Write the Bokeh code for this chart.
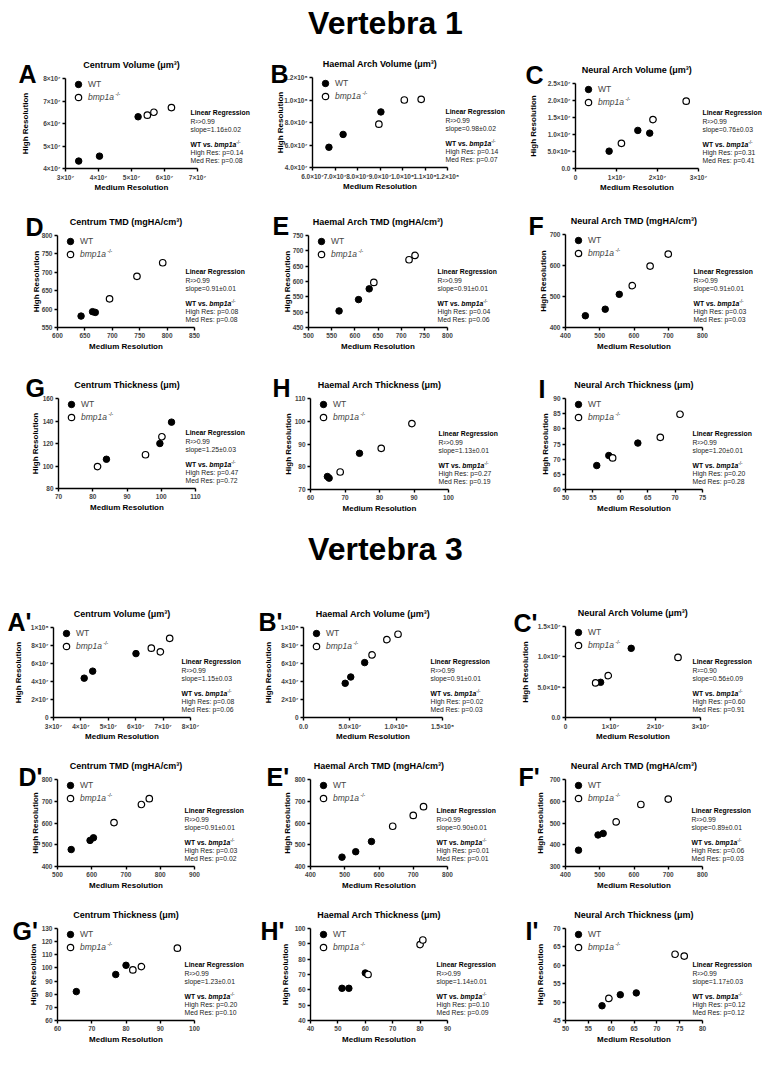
from math import pi
from bokeh.plotting import figure
from bokeh.models import (Range1d, FixedTicker, CustomJSTickFormatter, Label,
                          Legend, LegendItem)
from bokeh.layouts import row, column
from bokeh.embed import file_html
from bokeh.resources import INLINE

FONT = "Liberation Sans"

# ---------------------------------------------------------------- data
HEADINGS = ["Vertebra 1", "Vertebra 3"]
LETTERS = ["A", "B", "C", "D", "E", "F", "G", "H", "I",
           "A'", "B'", "C'", "D'", "E'", "F'", "G'", "H'", "I'"]
TITLES = ["Centrum Volume (μm³)", "Haemal Arch Volume (μm³)", "Neural Arch Volume (μm³)",
          "Centrum TMD (mgHA/cm³)", "Haemal Arch TMD (mgHA/cm³)", "Neural Arch TMD (mgHA/cm³)",
          "Centrum Thickness (μm)", "Haemal Arch Thickness (μm)", "Neural Arch Thickness (μm)"] * 2
X_LABEL = "Medium Resolution"
Y_LABEL = "High Resolution"
GROUPS = ["WT", "bmp1a"]

# Vertebra 1
A_wt_med = [3.40e7, 4.03e7, 5.20e7];   A_wt_high = [4.33e7, 4.55e7, 6.30e7]
A_mut_med = [5.48e7, 5.68e7, 6.21e7];  A_mut_high = [6.37e7, 6.50e7, 6.71e7]
B_wt_med = [6.73e7, 7.36e7, 9.04e7];   B_wt_high = [5.80e7, 6.94e7, 8.94e7]
B_mut_med = [8.95e7, 10.08e7, 10.83e7]; B_mut_high = [7.85e7, 10.0e7, 10.06e7]
C_wt_med = [0.82e7, 1.52e7, 1.81e7];   C_wt_high = [0.51e7, 1.12e7, 1.04e7]
C_mut_med = [1.12e7, 1.89e7, 2.70e7];  C_mut_high = [0.74e7, 1.44e7, 1.98e7]
D_wt_med = [643, 664, 669];   D_wt_high = [581, 593, 591]
D_mut_med = [695, 745, 792];  D_mut_high = [628, 689, 726]
E_wt_med = [566, 608, 631];   E_wt_high = [504, 541, 576]
E_mut_med = [641, 717, 730];  E_mut_high = [597, 671, 685]
F_wt_med = [458, 516, 557];   F_wt_high = [438, 459, 507]
F_mut_med = [595, 647, 700];  F_mut_high = [535, 598, 637]
G_wt_med = [84.0, 99.6, 103.0];  G_wt_high = [106, 120, 139]
G_mut_med = [81.4, 95.4, 100.2]; G_mut_high = [99.5, 110, 126]
H_wt_med = [64.9, 65.4, 74.2];   H_wt_high = [75.7, 75.0, 85.9]
H_mut_med = [68.6, 80.5, 89.4];  H_mut_high = [77.7, 88.1, 99.0]
I_wt_med = [55.7, 57.9, 63.2];   I_wt_high = [67.9, 71.2, 75.3]
I_mut_med = [58.6, 67.3, 70.9];  I_mut_high = [70.4, 77.2, 84.8]
# Vertebra 3
A3_wt_med = [4.12e7, 4.43e7, 6.01e7];  A3_wt_high = [4.37e7, 5.15e7, 7.10e7]
A3_mut_med = [6.57e7, 6.90e7, 7.24e7]; A3_mut_high = [7.70e7, 7.30e7, 8.80e7]
B3_wt_med = [4.5e7, 5.1e7, 6.6e7];     B3_wt_high = [3.8e7, 4.5e7, 6.1e7]
B3_mut_med = [7.4e7, 9.0e7, 10.2e7];   B3_mut_high = [6.95e7, 8.65e7, 9.25e7]
C3_wt_med = [0.78e7, 1.46e7];          C3_wt_high = [0.58e7, 1.14e7]
C3_mut_med = [0.67e7, 0.95e7, 2.50e7]; C3_mut_high = [0.57e7, 0.69e7, 0.99e7]
D3_wt_med = [540, 595, 605];  D3_wt_high = [478, 520, 532]
D3_mut_med = [665, 745, 768]; D3_mut_high = [602, 685, 712]
E3_wt_med = [492, 532, 578];  E3_wt_high = [443, 468, 515]
E3_mut_med = [640, 700, 730]; E3_mut_high = [585, 635, 675]
F3_wt_med = [438, 495, 510];  F3_wt_high = [375, 445, 452]
F3_mut_med = [548, 620, 700]; F3_mut_high = [505, 585, 610]
G3_wt_med = [65.5, 77.0, 80.0];  G3_wt_high = [82, 95, 102]
G3_mut_med = [82.0, 84.5, 95.0]; G3_mut_high = [98.5, 101, 115]
H3_wt_med = [51.5, 54.0, 60.0];  H3_wt_high = [61, 61, 71]
H3_mut_med = [61.0, 80.0, 81.0]; H3_mut_high = [70, 89.5, 92.5]
I3_wt_med = [58.0, 62.0, 65.5];  I3_wt_high = [49, 52, 52.5]
I3_mut_med = [59.5, 74.0, 76.0]; I3_mut_high = [51, 63, 62.5]

# statistics text: R², slope, p (high res), p (medium res)
STATS = [
    ("R²>0.99", "slope=1.16±0.02", "0.14", "0.08"),
    ("R²>0.99", "slope=0.98±0.02", "0.14", "0.07"),
    ("R²>0.99", "slope=0.76±0.03", "0.31", "0.41"),
    ("R²>0.99", "slope=0.91±0.01", "0.08", "0.08"),
    ("R²>0.99", "slope=0.91±0.01", "0.04", "0.06"),
    ("R²>0.99", "slope=0.91±0.01", "0.03", "0.03"),
    ("R²>0.99", "slope=1.25±0.03", "0.47", "0.72"),
    ("R²>0.99", "slope=1.13±0.01", "0.27", "0.19"),
    ("R²>0.99", "slope=1.20±0.01", "0.20", "0.28"),
    ("R²>0.99", "slope=1.15±0.03", "0.08", "0.06"),
    ("R²>0.99", "slope=0.91±0.01", "0.02", "0.03"),
    ("R²=0.90", "slope=0.56±0.09", "0.60", "0.91"),
    ("R²>0.99", "slope=0.91±0.01", "0.03", "0.02"),
    ("R²>0.99", "slope=0.90±0.01", "0.01", "0.01"),
    ("R²>0.99", "slope=0.89±0.01", "0.06", "0.03"),
    ("R²>0.99", "slope=1.23±0.01", "0.20", "0.10"),
    ("R²>0.99", "slope=1.14±0.01", "0.10", "0.09"),
    ("R²>0.99", "slope=1.17±0.03", "0.12", "0.12"),
]

# axis ticks and tick labels
V7 = ["3×10⁷", "4×10⁷", "5×10⁷", "6×10⁷", "7×10⁷", "8×10⁷"]
AXES = [
    # (x ticks, x labels, y ticks, y labels)
    ([3e7, 4e7, 5e7, 6e7, 7e7], V7[:5], [4e7, 5e7, 6e7, 7e7, 8e7], V7[1:6]),
    ([6e7, 7e7, 8e7, 9e7, 1e8, 1.1e8, 1.2e8],
     ["6.0×10⁷", "7.0×10⁷", "8.0×10⁷", "9.0×10⁷", "1.0×10⁸", "1.1×10⁸", "1.2×10⁸"],
     [4e7, 6e7, 8e7, 1e8, 1.2e8], ["4.0×10⁷", "6.0×10⁷", "8.0×10⁷", "1.0×10⁸", "1.2×10⁸"]),
    ([0, 1e7, 2e7, 3e7], ["0", "1×10⁷", "2×10⁷", "3×10⁷"],
     [0, 5e6, 1e7, 1.5e7, 2e7, 2.5e7], ["0.0", "5.0×10⁶", "1.0×10⁷", "1.5×10⁷", "2.0×10⁷", "2.5×10⁷"]),
    ([600, 650, 700, 750, 800, 850], ["600", "650", "700", "750", "800", "850"],
     [550, 600, 650, 700, 750, 800], ["550", "600", "650", "700", "750", "800"]),
    ([500, 550, 600, 650, 700, 750, 800], ["500", "550", "600", "650", "700", "750", "800"],
     [450, 500, 550, 600, 650, 700, 750], ["450", "500", "550", "600", "650", "700", "750"]),
    ([400, 500, 600, 700, 800], ["400", "500", "600", "700", "800"],
     [400, 500, 600, 700], ["400", "500", "600", "700"]),
    ([70, 80, 90, 100, 110], ["70", "80", "90", "100", "110"],
     [80, 100, 120, 140, 160], ["80", "100", "120", "140", "160"]),
    ([60, 70, 80, 90, 100], ["60", "70", "80", "90", "100"],
     [70, 80, 90, 100, 110], ["70", "80", "90", "100", "110"]),
    ([50, 55, 60, 65, 70, 75], ["50", "55", "60", "65", "70", "75"],
     [60, 65, 70, 75, 80, 85, 90], ["60", "65", "70", "75", "80", "85", "90"]),
    ([3e7, 4e7, 5e7, 6e7, 7e7, 8e7], V7,
     [0, 2e7, 4e7, 6e7, 8e7, 1e8], ["0", "2×10⁷", "4×10⁷", "6×10⁷", "8×10⁷", "1×10⁸"]),
    ([0, 5e7, 1e8, 1.5e8], ["0.0", "5.0×10⁷", "1.0×10⁸", "1.5×10⁸"],
     [0, 2e7, 4e7, 6e7, 8e7, 1e8], ["0", "2×10⁷", "4×10⁷", "6×10⁷", "8×10⁷", "1×10⁸"]),
    ([0, 1e7, 2e7, 3e7], ["0", "1×10⁷", "2×10⁷", "3×10⁷"],
     [0, 5e6, 1e7, 1.5e7], ["0.0", "5.0×10⁶", "1.0×10⁷", "1.5×10⁷"]),
    ([500, 600, 700, 800, 900], ["500", "600", "700", "800", "900"],
     [400, 500, 600, 700, 800], ["400", "500", "600", "700", "800"]),
    ([400, 500, 600, 700, 800], ["400", "500", "600", "700", "800"],
     [400, 500, 600, 700, 800], ["400", "500", "600", "700", "800"]),
    ([400, 500, 600, 700, 800], ["400", "500", "600", "700", "800"],
     [300, 400, 500, 600, 700], ["300", "400", "500", "600", "700"]),
    ([60, 70, 80, 90, 100], ["60", "70", "80", "90", "100"],
     [60, 70, 80, 90, 100, 110, 120, 130], ["60", "70", "80", "90", "100", "110", "120", "130"]),
    ([40, 50, 60, 70, 80, 90], ["40", "50", "60", "70", "80", "90"],
     [40, 50, 60, 70, 80, 90, 100], ["40", "50", "60", "70", "80", "90", "100"]),
    ([50, 55, 60, 65, 70, 75, 80], ["50", "55", "60", "65", "70", "75", "80"],
     [45, 50, 55, 60, 65, 70], ["45", "50", "55", "60", "65", "70"]),
]

SERIES = [
    (A_wt_med, A_wt_high, A_mut_med, A_mut_high), (B_wt_med, B_wt_high, B_mut_med, B_mut_high),
    (C_wt_med, C_wt_high, C_mut_med, C_mut_high), (D_wt_med, D_wt_high, D_mut_med, D_mut_high),
    (E_wt_med, E_wt_high, E_mut_med, E_mut_high), (F_wt_med, F_wt_high, F_mut_med, F_mut_high),
    (G_wt_med, G_wt_high, G_mut_med, G_mut_high), (H_wt_med, H_wt_high, H_mut_med, H_mut_high),
    (I_wt_med, I_wt_high, I_mut_med, I_mut_high),
    (A3_wt_med, A3_wt_high, A3_mut_med, A3_mut_high), (B3_wt_med, B3_wt_high, B3_mut_med, B3_mut_high),
    (C3_wt_med, C3_wt_high, C3_mut_med, C3_mut_high), (D3_wt_med, D3_wt_high, D3_mut_med, D3_mut_high),
    (E3_wt_med, E3_wt_high, E3_mut_med, E3_mut_high), (F3_wt_med, F3_wt_high, F3_mut_med, F3_mut_high),
    (G3_wt_med, G3_wt_high, G3_mut_med, G3_mut_high), (H3_wt_med, H3_wt_high, H3_mut_med, H3_mut_high),
    (I3_wt_med, I3_wt_high, I3_mut_med, I3_mut_high),
]

# ---------------------------------------------------------------- layout (page pixels)
ROWS = [(48, 205), (205, 360), (360, 530), (570, 750), (750, 900), (900, 1060)]
COLS = [(0, 253), (253, 508), (508, 762)]
# axes box left, right, top, bottom; letter left x; letter centre y; y-label x; stats x
GEOM = [
    (65, 197, 78, 168, 18, 73, 25, 190),
    (312, 447, 77, 167, 270, 73, 280, 445),
    (575, 698, 83, 168, 525, 74, 533, 702),
    (57, 194, 235, 327, 25, 226, 36, 185),
    (308, 447, 235, 327, 272, 225, 287, 437),
    (565, 702, 234, 327, 528, 225, 543, 693),
    (58, 195, 398, 488, 25, 387, 35, 185),
    (310, 448, 398, 489, 272, 387, 288, 438),
    (565, 702, 398, 489, 538, 388, 545, 692),
    (53, 190, 627, 717, 7, 621, 18, 181),
    (303, 442, 627, 717, 258, 621, 268, 430),
    (565, 700, 626, 717, 513, 622, 525, 692),
    (57, 194, 779, 866, 18, 776, 35, 184),
    (310, 447, 779, 866, 266, 776, 287, 436),
    (565, 702, 779, 866, 518, 776, 540, 691),
    (57, 194, 928, 1020, 12, 930, 33, 184),
    (310, 447, 928, 1020, 260, 930, 285, 436),
    (565, 702, 928, 1020, 525, 930, 540, 692),
]


def add_label(p, text, x, y, dx=0, dy=0, size="8px", style="bold", align="left",
              baseline="middle", angle=0.0, color="black", font=FONT):
    p.add_layout(Label(x=x, y=y, x_offset=dx, y_offset=dy, text=text, text_font=font,
                       text_font_size=size, text_font_style=style, text_align=align,
                       text_baseline=baseline, angle=angle, text_color=color))


def formatter(vals, labels):
    return CustomJSTickFormatter(args=dict(vals=vals, labels=labels), code="""
        for (let i = 0; i < vals.length; i++) {
            if (Math.abs(vals[i] - tick) <= 1e-6 * Math.max(1, Math.abs(tick))) return labels[i];
        }
        return '';""")


def panel(i):
    r, c = divmod(i, 3)
    r0, r1 = ROWS[r]
    c0, c1 = COLS[c]
    L, R, T, B, lx, ly, ylx, sx = GEOM[i]
    xt, xl, yt, yl = AXES[i]
    x0, x1, y0, y1 = xt[0], xt[-1], yt[0], yt[-1]
    # the plot frame spans the whole cell; the axes are drawn at fixed data locations
    kx = (x1 - x0) / (R - L)
    ky = (y1 - y0) / (B - T)
    xr = Range1d(x0 - (L - c0) * kx, x1 + (c1 - R) * kx)
    yr = Range1d(y0 - (r1 - B) * ky, y1 + (T - r0) * ky)
    p = figure(width=c1 - c0, height=r1 - r0, x_range=xr, y_range=yr,
               output_backend="svg", toolbar_location=None, min_border=0,
               min_border_left=0, min_border_right=0, min_border_top=0, min_border_bottom=0)
    p.grid.visible = False
    p.outline_line_color = None
    p.xaxis.ticker = FixedTicker(ticks=xt)
    p.xaxis.formatter = formatter(xt, xl)
    p.yaxis.ticker = FixedTicker(ticks=yt)
    p.yaxis.formatter = formatter(yt, yl)
    p.xaxis.fixed_location = y0
    p.xaxis.bounds = (x0, x1)
    p.yaxis.fixed_location = x0
    p.yaxis.bounds = (y0, y1)
    for ax in (p.xaxis[0], p.yaxis[0]):
        ax.axis_line_width = 1.4
        ax.major_tick_line_width = 1.4
        ax.major_tick_out = 3
        ax.major_tick_in = 0
        ax.minor_tick_line_color = None
        ax.major_label_standoff = 2
        ax.major_label_text_font = FONT
        ax.major_label_text_font_size = "6.5px"
        ax.major_label_text_font_style = "bold"

    wx, wy, mx, my = SERIES[i]
    rw = p.scatter(wx, wy, size=6.5, fill_color="black", line_color="black", line_width=1)
    rm = p.scatter(mx, my, size=6.5, fill_color="white", line_color="black", line_width=1.2)

    for rend, name, top, style in ((rw, GROUPS[0], 6, "normal"), (rm, GROUPS[1], 19, "italic")):
        lg = Legend(items=[LegendItem(label=name, renderers=[rend])],
                    location=(L - c0 + 5, r1 - T - top - 8),
                    glyph_width=16, glyph_height=16, label_height=16, label_width=10,
                    label_standoff=2, padding=0, margin=0, spacing=0,
                    border_line_color=None, background_fill_alpha=0,
                    label_text_font=FONT, label_text_font_size="8.5px",
                    label_text_font_style=style)
        p.add_layout(lg)
    add_label(p, "-/-", x0, y1, dx=50, dy=-15.5, size="5px", style="normal")

    xm = (x0 + x1) / 2
    ym = (y0 + y1) / 2
    add_label(p, TITLES[i], xm, y1, dy=14, size="9px", align="center")
    add_label(p, LETTERS[i], x0, y1, dx=lx - L, dy=T - ly, size="25px")
    add_label(p, X_LABEL, xm, y0, dy=-19, size="8px", align="center")
    add_label(p, Y_LABEL, x0, ym, dx=ylx - L, size="8px", align="center", angle=pi / 2)

    r2, slope, ph, pm = STATS[i]
    dx = sx - R
    fs = "6.8px"
    add_label(p, "Linear Regression", x1, y0, dx=dx, dy=56, size=fs)
    add_label(p, r2, x1, y0, dx=dx, dy=47.5, size=fs, style="normal", color="#222222")
    add_label(p, slope, x1, y0, dx=dx, dy=39.5, size=fs, style="normal", color="#222222")
    add_label(p, "WT vs. ", x1, y0, dx=dx, dy=24, size=fs)
    add_label(p, "bmp1a", x1, y0, dx=dx + 23.8, dy=24, size=fs, style="bold italic")
    add_label(p, "-/-", x1, y0, dx=dx + 45.8, dy=26.5, size="4.5px", style="normal")
    add_label(p, "High Res: p=" + ph, x1, y0, dx=dx, dy=16, size=fs, style="normal", color="#222222")
    add_label(p, "Med Res: p=" + pm, x1, y0, dx=dx, dy=8.5, size=fs, style="normal", color="#222222")
    return p


def heading(text, h, center_from_top):
    p = figure(width=762, height=h, x_range=Range1d(0, 762), y_range=Range1d(0, h),
               output_backend="svg", toolbar_location=None,
               x_axis_location=None, y_axis_location=None, min_border=0)
    p.grid.visible = False
    p.outline_line_color = None
    add_label(p, text, 385, h - center_from_top, size="32px", align="center")
    return p


panels = [panel(i) for i in range(18)]
rows = [row(panels[3 * k:3 * k + 3]) for k in range(6)]
layout = column(heading(HEADINGS[0], 48, 22), rows[0], rows[1], rows[2],
                heading(HEADINGS[1], 40, 18), rows[3], rows[4], rows[5])

open("out.html", "w").write(file_html(layout, INLINE))
